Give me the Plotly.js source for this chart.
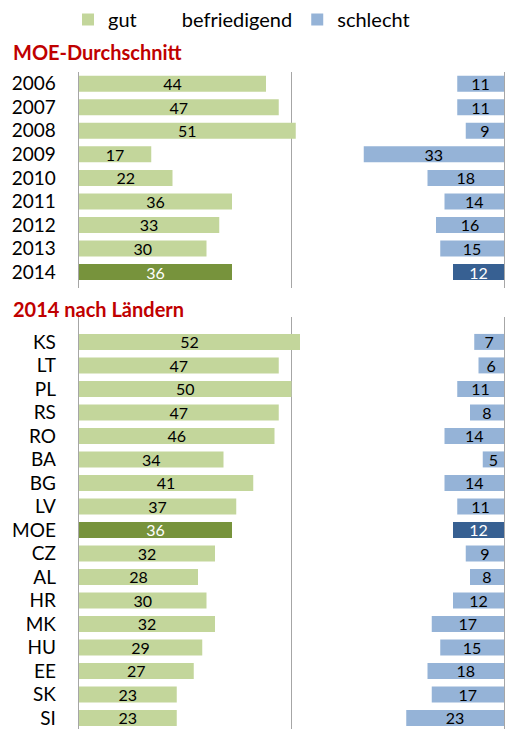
<!DOCTYPE html>
<html><head><meta charset="utf-8">
<script src="https://cdn.plot.ly/plotly-3.0.1.min.js"></script>
<style>html,body{margin:0;padding:0;background:#fff}</style>
</head><body><div id="chart" style="width:505px;height:729px"></div>
<script>
const years = ['2006','2007','2008','2009','2010','2011','2012','2013','2014'];
const yearsGut = [44,47,51,17,22,36,33,30,36];
const yearsSchlecht = [11,11,9,33,18,14,16,15,12];
const countries = ['KS','LT','PL','RS','RO','BA','BG','LV','MOE','CZ','AL','HR','MK','HU','EE','SK','SI'];
const countriesGut = [52,47,50,47,46,34,41,37,36,32,28,30,32,29,27,23,23];
const countriesSchlecht = [7,6,11,8,14,5,14,11,12,9,8,12,17,15,18,17,23];
const legendNames = ['gut','befriedigend','schlecht'];
const sectionTitles = ['MOE-Durchschnitt','2014 nach Ländern'];
const highlightYear = '2014';
const highlightCountry = 'MOE';

const C = {gut:'#c3d69b', gutHi:'#77933c', sch:'#95b3d7', schHi:'#376092', grid:'#a6a6a6'};
const FONT = 'Lato, "Noto Sans", sans-serif';

function barTrace(cats, vals, hi, light, dark, name, xa, ya, showlegend){
  return {
    type:'bar', orientation:'h', name:name, y:cats, x:vals,
    xaxis:xa, yaxis:ya, width:0.68, showlegend:showlegend, legendgroup:name,
    marker:{color:cats.map(c=>c===hi?dark:light), line:{width:0}},
    text:vals.map(String), textposition:'inside', insidetextanchor:'middle',
    textangle:0, constraintext:'none',
    textfont:{family:FONT, size:16, color:cats.map(c=>c===hi?'#ffffff':'#000000')},
    hoverinfo:'x+y'
  };
}

const data = [
  barTrace(years, yearsGut, highlightYear, C.gut, C.gutHi, legendNames[0], 'x', 'y', true),
  {type:'bar', orientation:'h', name:legendNames[1], y:[years[0]], x:[0], xaxis:'x', yaxis:'y',
   marker:{color:'rgba(0,0,0,0)'}, showlegend:true, hoverinfo:'skip'},
  barTrace(years, yearsSchlecht, highlightYear, C.sch, C.schHi, legendNames[2], 'x2', 'y', true),
  barTrace(countries, countriesGut, highlightCountry, C.gut, C.gutHi, legendNames[0], 'x3', 'y2', false),
  barTrace(countries, countriesSchlecht, highlightCountry, C.sch, C.schHi, legendNames[2], 'x4', 'y2', false)
];

const xBase = {range:[0,100], showgrid:true, gridcolor:C.grid, gridwidth:1.3, tickvals:[50],
  showticklabels:false, ticks:'', zeroline:false, showline:false, fixedrange:true};
const xOver = {range:[100,0], showgrid:false, showticklabels:false, ticks:'', zeroline:false, showline:false, fixedrange:true};
const yBase = {type:'category', showgrid:false, showline:true, mirror:true, linecolor:C.grid, linewidth:1.3,
  ticks:'', ticklabelstandoff:18, zeroline:false, fixedrange:true,
  tickfont:{family:FONT, size:19, color:'#000'}};

const layout = {
  width:505, height:729,
  margin:{l:79, r:1, t:0, b:0, autoexpand:false},
  paper_bgcolor:'#fff', plot_bgcolor:'#fff',
  barmode:'overlay',
  showlegend:true,
  legend:{orientation:'h', xref:'container', yref:'container', x:0.1347, xanchor:'left', y:1.0, yanchor:'top',
    font:{family:FONT, size:20, color:'#000'}, traceorder:'normal', bgcolor:'rgba(0,0,0,0)'},
  xaxis: Object.assign({}, xBase, {anchor:'y'}),
  xaxis2: Object.assign({}, xOver, {anchor:'y', overlaying:'x'}),
  xaxis3: Object.assign({}, xBase, {anchor:'y2'}),
  xaxis4: Object.assign({}, xOver, {anchor:'y2', overlaying:'x3'}),
  yaxis: Object.assign({}, yBase, {domain:[1-288/729, 1-72/729], anchor:'x',
    categoryorder:'array', categoryarray:years, tickmode:'array', tickvals:years,
    range:[8.68,-0.5], autorange:false}),
  yaxis2: Object.assign({}, yBase, {domain:[0, 1-317/729], anchor:'x3',
    categoryorder:'array', categoryarray:countries, tickmode:'array', tickvals:countries,
    range:[16.47,-1.06], autorange:false}),
  annotations:[
    {text:'<b>'+sectionTitles[0]+'</b>', xref:'paper', yref:'paper', x:(11-79)/425, y:1-52/729,
     xanchor:'left', yanchor:'middle', showarrow:false, font:{family:FONT, size:20, color:'#c00000'}},
    {text:'<b>'+sectionTitles[1]+'</b>', xref:'paper', yref:'paper', x:(11-79)/425, y:1-309/729,
     xanchor:'left', yanchor:'middle', showarrow:false, font:{family:FONT, size:20, color:'#c00000'}}
  ]
};

Plotly.newPlot('chart', data, layout, {staticPlot:true, displayModeBar:false});
</script></body></html>
